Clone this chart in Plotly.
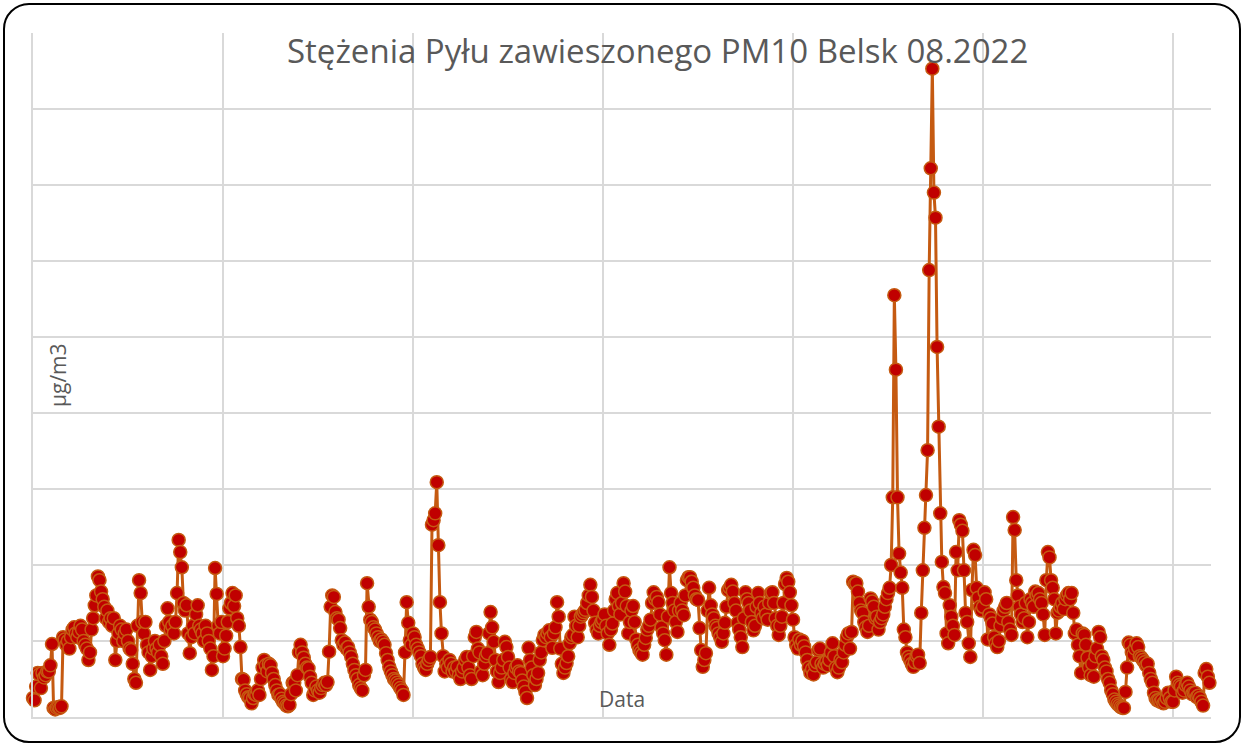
import pandas as pd
import plotly.graph_objects as go

# Hourly PM10 concentrations, Belsk, August 2022 (µg/m3), one row per day
pm10_hourly = [
    # 01.08
    2.5, 2.2, 4.0, 5.8, 5.6, 3.8, 5.8, 5.2, 5.5, 6.0, 6.0, 6.8, 9.6, 1.2, 1.0, 1.2, 1.3, 1.2, 1.4, 10.5, 10.2, 9.5, 10.0, 9.0,
    # 02.08
    10.5, 11.5, 11.8, 11.0, 10.5, 11.2, 12.0, 11.5, 10.0, 9.5, 9.0, 7.5, 8.5, 11.5, 13.0, 14.7, 16.0, 18.5, 18.0, 16.5, 15.5, 14.5, 13.0, 14.0,
    # 03.08
    12.5, 13.0, 12.0, 13.0, 7.5, 10.0, 11.0, 12.0, 11.5, 10.0, 11.0, 11.5, 10.0, 9.0, 8.8, 7.0, 5.0, 4.5, 12.0, 18.0, 16.3, 12.5, 11.0, 12.5,
    # 04.08
    9.5, 8.5, 6.2, 8.0, 9.0, 10.0, 9.0, 8.5, 9.5, 8.0, 7.0, 10.0, 12.0, 14.3, 12.5, 11.5, 12.0, 11.0, 12.5, 16.3, 23.3, 21.7, 19.7, 15.0,
    # 05.08
    14.0, 14.7, 11.0, 8.4, 10.5, 12.0, 11.0, 13.5, 14.7, 12.0, 11.5, 11.0, 10.0, 12.0, 11.0, 10.0, 9.0, 6.2, 8.0, 19.6, 16.2, 12.0, 11.0, 12.5,
    # 06.08
    8.0, 9.0, 10.7, 12.5, 14.3, 15.0, 16.3, 14.6, 16.0, 13.0, 12.0, 9.2, 5.0, 4.9, 3.5, 3.0, 2.6, 2.5, 1.8, 2.5, 3.0, 2.9, 3.5, 2.9,
    # 07.08
    5.0, 6.5, 7.5, 6.8, 6.0, 7.0, 6.8, 5.8, 5.0, 4.2, 3.5, 2.9, 3.0, 2.4, 2.0, 1.8, 1.5, 1.4, 1.6, 3.0, 4.5, 4.5, 3.5, 5.5,
    # 08.08
    8.5, 9.5, 8.5, 7.8, 7.0, 6.5, 6.4, 5.3, 4.5, 2.9, 3.5, 4.0, 3.5, 3.2, 3.8, 4.2, 4.5, 4.2, 4.6, 8.6, 14.5, 16.0, 15.8, 13.8,
    # 09.08
    13.0, 12.8, 11.7, 10.1, 9.5, 9.8, 9.0, 9.2, 8.5, 7.9, 7.0, 6.2, 5.5, 5.0, 4.2, 3.8, 3.5, 5.5, 6.2, 17.6, 14.5, 12.8, 12.5, 11.8,
    # 10.08
    11.5, 11.0, 10.5, 10.0, 10.2, 9.9, 9.5, 8.4, 7.5, 6.6, 6.0, 5.5, 5.0, 4.8, 4.5, 4.2, 3.8, 3.5, 2.9, 8.5, 15.1, 12.4, 10.1, 9.5,
    # 11.08
    11.0, 10.5, 9.5, 9.0, 8.5, 8.0, 7.0, 6.5, 6.2, 7.0, 7.5, 7.9, 25.3, 25.9, 26.8, 30.9, 22.6, 15.1, 11.0, 8.0, 6.0, 7.0, 6.5, 7.5,
    # 12.08
    7.0, 6.0, 6.5, 6.0, 6.6, 5.5, 5.0, 6.0, 6.5, 7.5, 7.9, 6.5, 5.5, 5.0, 8.0, 10.5, 11.2, 9.0, 8.5, 6.0, 5.5, 7.0, 8.0, 8.4,
    # 13.08
    11.0, 13.8, 11.8, 9.9, 7.5, 6.0, 4.6, 5.8, 6.5, 7.5, 9.9, 9.2, 7.9, 6.5, 5.0, 4.6, 5.8, 6.5, 6.8, 6.0, 5.8, 4.8, 4.0, 3.3,
    # 14.08
    2.5, 9.1, 7.5, 6.5, 5.5, 4.2, 5.0, 5.8, 7.5, 8.5, 10.1, 10.8, 10.5, 11.0, 11.4, 10.5, 9.1, 11.0, 11.8, 15.1, 13.2, 9.0, 7.0, 5.8,
    # 15.08
    6.5, 7.1, 8.0, 9.7, 10.5, 10.8, 13.2, 12.0, 10.5, 12.0, 13.2, 13.5, 13.8, 14.1, 15.0, 16.0, 17.4, 15.8, 14.0, 12.4, 11.5, 11.0, 12.0, 12.5,
    # 16.08
    12.8, 13.5, 12.0, 11.0, 9.5, 11.5, 12.3, 14.0, 15.5, 16.3, 14.6, 13.5, 15.0, 17.6, 16.5, 14.6, 11.0, 12.5, 14.0, 14.6, 12.5, 10.2, 9.5, 8.8,
    # 17.08
    8.5, 8.2, 9.5, 10.4, 11.5, 12.0, 12.8, 15.0, 16.4, 15.5, 15.8, 15.1, 13.5, 11.8, 11.0, 10.1, 8.2, 13.2, 19.7, 16.3, 15.0, 14.0, 12.5, 11.2,
    # 18.08
    14.0, 15.0, 14.0, 13.4, 16.0, 18.0, 18.4, 18.4, 17.8, 17.0, 16.0, 15.5, 15.4, 11.7, 8.8, 6.6, 7.5, 8.4, 14.0, 17.0, 14.7, 13.5, 13.0, 12.0,
    # 19.08
    11.7, 11.0, 10.5, 9.9, 11.0, 12.4, 14.5, 16.7, 17.0, 17.4, 16.5, 15.0, 14.0, 12.4, 11.5, 10.5, 9.2, 13.0, 16.4, 15.5, 15.0, 14.0, 12.5, 11.4,
    # 20.08
    12.0, 14.5, 16.3, 15.0, 13.7, 13.0, 14.5, 13.5, 12.8, 15.0, 16.3, 16.4, 15.0, 13.0, 12.0, 10.8, 12.0, 13.2, 15.0, 17.5, 18.3, 17.8, 16.4, 14.7,
    # 21.08
    12.8, 10.5, 9.5, 9.0, 10.2, 9.5, 10.0, 9.3, 8.5, 7.5, 6.5, 5.8, 6.3, 5.6, 6.8, 7.2, 8.8, 9.0, 7.0, 6.5, 7.0, 7.3, 6.8, 7.5,
    # 22.08
    8.5, 9.7, 8.0, 6.5, 5.9, 6.5, 7.5, 7.2, 8.5, 9.5, 10.5, 11.0, 9.0, 11.2, 17.8, 17.5, 17.6, 16.5, 15.0, 14.0, 13.7, 12.5, 11.8, 11.2,
    # 23.08
    12.0, 15.6, 15.2, 14.5, 13.0, 13.2, 11.5, 12.5, 13.0, 13.5, 14.5, 15.5, 16.3, 17.0, 20.0, 28.9, 55.5, 45.7, 28.9, 21.5, 19.0, 17.0, 11.5, 10.5,
    # 24.08
    8.5, 7.9, 7.5, 7.0, 6.6, 7.2, 8.0, 8.2, 7.1, 13.7, 19.3, 24.9, 29.2, 35.1, 58.8, 72.2, 85.3, 69.0, 65.7, 48.7, 38.2, 26.8, 20.4, 17.1,
    # 25.08
    16.3, 11.0, 9.7, 14.7, 13.2, 12.0, 10.8, 21.7, 19.3, 25.9, 25.3, 24.5, 19.3, 13.7, 12.5, 9.7, 7.9, 16.7, 22.0, 21.3, 17.0, 15.7, 14.5, 14.0,
    # 26.08
    14.5, 16.4, 15.5, 10.2, 13.5, 13.0, 12.3, 10.5, 9.7, 9.2, 10.0, 12.0, 13.0, 14.0, 14.5, 15.0, 12.5, 11.5, 10.8, 26.3, 24.6, 18.0, 16.0, 14.5,
    # 27.08
    13.5, 12.5, 13.0, 15.0, 10.5, 12.5, 15.5, 15.0, 14.5, 16.5, 16.0, 16.3, 15.5, 15.0, 13.5, 10.8, 18.0, 21.7, 21.0, 18.0, 17.0, 15.5, 11.0, 13.7,
    # 28.08
    14.0, 14.5, 15.0, 14.2, 15.5, 16.0, 16.3, 15.5, 16.3, 13.7, 11.0, 11.5, 9.5, 8.0, 5.8, 11.0, 10.8, 9.5, 7.8, 6.5, 5.5, 7.0, 5.3, 8.0,
    # 29.08
    9.0, 11.2, 10.5, 8.0, 7.5, 6.5, 6.0, 5.0, 4.5, 3.5, 3.0, 2.3, 2.0, 1.7, 1.5, 1.3, 1.2, 1.2, 3.3, 6.5, 9.8, 9.5, 8.5, 8.2,
    # 30.08
    9.0, 9.7, 9.2, 8.0, 7.8, 7.5, 7.2, 6.8, 7.0, 5.8, 5.0, 4.5, 3.2, 2.5, 2.2, 2.2, 2.0, 2.2, 1.8, 2.0, 2.5, 3.2, 2.5, 2.0,
    # 31.08
    2.0, 3.5, 5.3, 4.5, 4.2, 4.0, 3.2, 3.5, 4.2, 4.5, 4.0, 3.5, 3.0, 3.2, 3.2, 2.6, 2.8, 2.5, 2.0, 1.5, 5.8, 6.3, 5.3, 4.5,
]

timestamps = pd.date_range("2022-08-01 00:00", periods=len(pm10_hourly), freq="h")

title_text = "Stężenia Pyłu zawieszonego PM10 Belsk 08.2022"
x_title = "Data"
y_title = "µg/m3"

W, H = 1246, 745
ML, MR, MT, MB = 33, 35, 33, 28
plot_w = W - ML - MR
plot_h = H - MT - MB

fig = go.Figure()
fig.add_trace(go.Scatter(
    x=timestamps,
    y=pm10_hourly,
    mode="lines+markers",
    line=dict(color="#C55A11", width=3),
    marker=dict(size=13, color="#C00000", line=dict(color="#C55A11", width=1.5)),
    showlegend=False,
    cliponaxis=False,
))

grid = "#D9D9D9"
fig.update_xaxes(
    range=[pd.Timestamp("2022-08-01"), pd.Timestamp("2022-09-01")],
    tick0="2022-08-01", dtick=5 * 86400000,
    showgrid=True, gridcolor=grid, gridwidth=1.5,
    showticklabels=False, ticks="", zeroline=False,
    showline=True, linecolor=grid, linewidth=1.5,
)
fig.update_yaxes(
    range=[0, 90], dtick=10,
    showgrid=True, gridcolor=grid, gridwidth=1.5,
    showticklabels=False, ticks="", zeroline=False,
    showline=True, linecolor=grid, linewidth=1.5,
)


def px_x(px):
    return (px - ML) / plot_w


def px_y(py):
    return (H - MB - py) / plot_h


# rounded frame around the whole chart
x0, y0, x1, y1, r = 4, 4, 1240, 742, 25
k = 0.5523 * r
pts = [
    f"M {px_x(x0 + r)},{px_y(y0)}",
    f"L {px_x(x1 - r)},{px_y(y0)}",
    f"C {px_x(x1 - r + k)},{px_y(y0)} {px_x(x1)},{px_y(y0 + r - k)} {px_x(x1)},{px_y(y0 + r)}",
    f"L {px_x(x1)},{px_y(y1 - r)}",
    f"C {px_x(x1)},{px_y(y1 - r + k)} {px_x(x1 - r + k)},{px_y(y1)} {px_x(x1 - r)},{px_y(y1)}",
    f"L {px_x(x0 + r)},{px_y(y1)}",
    f"C {px_x(x0 + r - k)},{px_y(y1)} {px_x(x0)},{px_y(y1 - r + k)} {px_x(x0)},{px_y(y1 - r)}",
    f"L {px_x(x0)},{px_y(y0 + r)}",
    f"C {px_x(x0)},{px_y(y0 + r - k)} {px_x(x0 + r - k)},{px_y(y0)} {px_x(x0 + r)},{px_y(y0)}",
    "Z",
]
fig.add_shape(type="path", path=" ".join(pts), xref="paper", yref="paper",
              line=dict(color="#000000", width=2), layer="above")

font_family = "Open Sans"
fig.add_annotation(text=title_text, xref="paper", yref="paper",
                   x=px_x(657), y=px_y(51), xanchor="center", yanchor="middle",
                   showarrow=False, font=dict(family=font_family, size=33, color="#595959"))
fig.add_annotation(text=x_title, xref="paper", yref="paper",
                   x=px_x(622), y=px_y(699), xanchor="center", yanchor="middle",
                   showarrow=False, font=dict(family=font_family, size=21, color="#595959"))
fig.add_annotation(text=y_title, xref="paper", yref="paper", textangle=-90,
                   x=px_x(58), y=px_y(375), xanchor="center", yanchor="middle",
                   showarrow=False, font=dict(family=font_family, size=21, color="#595959"))

fig.update_layout(
    width=W, height=H,
    margin=dict(l=ML, r=MR, t=MT, b=MB),
    paper_bgcolor="white", plot_bgcolor="white",
    font=dict(family=font_family),
)

fig.write_html("out.html")
